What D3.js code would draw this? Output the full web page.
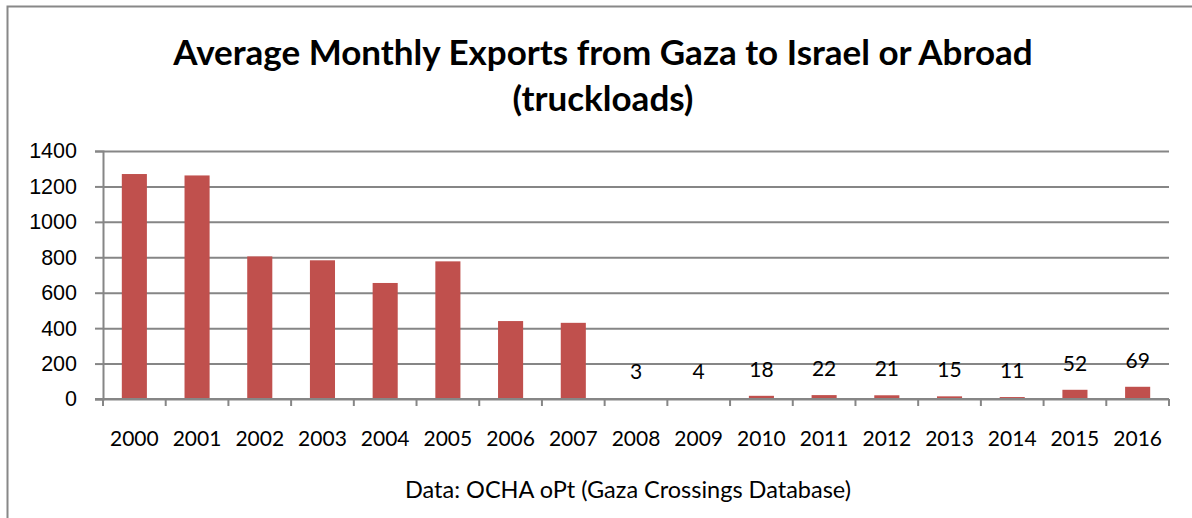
<!DOCTYPE html>
<html>
<head>
<meta charset="utf-8">
<script src="https://cdn.jsdelivr.net/npm/d3@7"></script>
<style>
  body { margin: 0; background: #fff; }
  svg { display: block; font-family: Lato, 'Open Sans', sans-serif; }
</style>
</head>
<body>
<svg></svg>
<script>
// years and average monthly truckloads
var years = ['2000', '2001', '2002', '2003', '2004', '2005', '2006', '2007', '2008',
  '2009', '2010', '2011', '2012', '2013', '2014', '2015', '2016']
var trucks = [1270, 1262, 805, 783, 655, 777, 440, 430, 3, 4, 18, 22, 21, 15, 11, 52, 69]
// only these years carry a data label
var labelled = ['2008', '2009', '2010', '2011', '2012', '2013', '2014', '2015', '2016']
var yTicks = [0, 200, 400, 600, 800, 1000, 1200, 1400]

var data = years.map((y, i) => ({ year: y, value: trucks[i] }))

var width = 1192
var height = 518
var margin = { top: 151, right: 23, bottom: 119, left: 103 }

var svg = d3.select('svg').attr('width', width).attr('height', height)

// outer chart border
svg.append('rect')
  .attr('x', 7.5).attr('y', 6.5)
  .attr('width', width).attr('height', height)
  .attr('fill', 'none').attr('stroke', '#888').attr('stroke-width', 2)

var x = d3.scaleBand()
  .domain(years)
  .range([margin.left, width - margin.right])
  .paddingInner(0.6).paddingOuter(0.3)

var y = d3.scaleLinear()
  .domain([0, 1400])
  .range([height - margin.bottom, margin.top])

// gridlines + y labels
var yAxis = g =>
  g.attr('transform', `translate(${margin.left},0)`)
    .call(d3.axisLeft(y).tickValues(yTicks).tickFormat(d3.format('d')).tickSize(8).tickPadding(18))
    .call(g => g.select('.domain').attr('stroke', '#868686').attr('stroke-width', 2))
    .call(g => g.selectAll('.tick line').attr('stroke', '#868686').attr('stroke-width', 2))
    .call(g => g.selectAll('.tick line')
      .clone()
      .attr('x1', 0)
      .attr('x2', width - margin.left - margin.right))
    .call(g => g.selectAll('.tick text')
      .attr('font-size', 21.5).attr('fill', '#000'))

svg.append('g').call(yAxis)

var band = x.step()
svg.append('g')
  .selectAll('rect')
  .data(data)
  .enter()
  .append('rect')
  .attr('x', d => x(d.year))
  .attr('y', d => y(d.value))
  .attr('width', x.bandwidth())
  .attr('height', d => y(0) - y(d.value))
  .attr('fill', '#c0504d')

// x axis: ticks at category boundaries
var xAxisG = svg.append('g')
  .attr('transform', `translate(0,${y(0)})`)
xAxisG.append('line')
  .attr('x1', margin.left - 8).attr('x2', width - margin.right)
  .attr('stroke', '#868686').attr('stroke-width', 2)
xAxisG.selectAll('line.tk')
  .data(d3.range(years.length + 1))
  .enter()
  .append('line')
  .attr('class', 'tk')
  .attr('x1', i => margin.left + i * band)
  .attr('x2', i => margin.left + i * band)
  .attr('y1', 0).attr('y2', 7)
  .attr('stroke', '#868686').attr('stroke-width', 2)
xAxisG.selectAll('text')
  .data(years)
  .enter()
  .append('text')
  .attr('x', d => x(d) + x.bandwidth() / 2)
  .attr('y', 47)
  .attr('text-anchor', 'middle')
  .attr('font-size', 21)
  .text(d => d)

svg.append('g')
  .selectAll('text')
  .data(data.filter(d => labelled.includes(d.year)))
  .enter()
  .append('text')
  .attr('x', d => x(d.year) + x.bandwidth() / 2)
  .attr('y', d => y(d.value) - 19)
  .attr('text-anchor', 'middle')
  .attr('font-size', 21)
  .text(d => d.value)

var title = svg.append('text')
  .attr('text-anchor', 'middle')
  .attr('font-size', 35)
  .attr('font-weight', 'bold')
title.append('tspan').attr('x', 603).attr('y', 65)
  .text('Average Monthly Exports from Gaza to Israel or Abroad')
title.append('tspan').attr('x', 603).attr('y', 111)
  .text('(truckloads)')

svg.append('text')
  .attr('x', 628)
  .attr('y', 498)
  .attr('text-anchor', 'middle')
  .attr('font-size', 23.5)
  .text('Data: OCHA oPt (Gaza Crossings Database)')
</script>
</body>
</html>
